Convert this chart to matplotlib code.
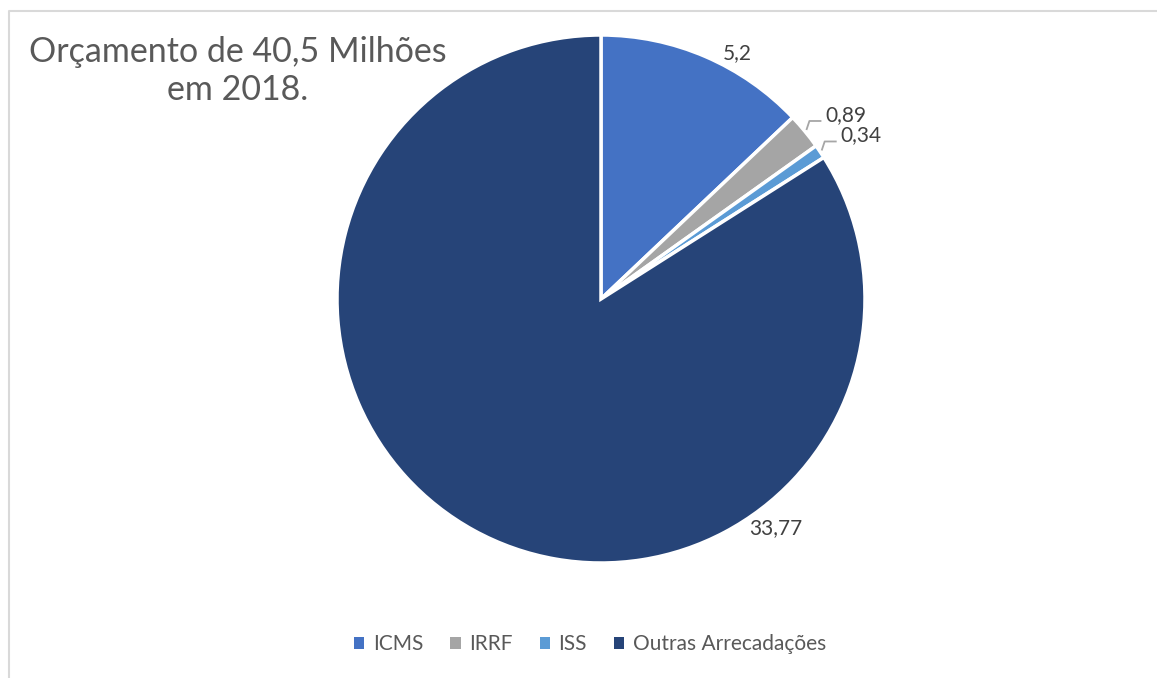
import numpy as np
import matplotlib.pyplot as plt
from matplotlib.patches import Patch

plt.rcParams['font.family'] = ['Lato', 'DejaVu Sans']

categorias = ['ICMS', 'IRRF', 'ISS', 'Outras Arrecadações']
valores = [5.2, 0.89, 0.34, 33.77]
rotulos = ['5,2', '0,89', '0,34', '33,77']
cores = ['#4472C4', '#A5A5A5', '#5B9BD5', '#264478']
titulo = 'Orçamento de 40,5 Milhões\nem 2018.'

W, H = 1157, 678
fig = plt.figure(figsize=(W / 100, H / 100), dpi=100)
ax = fig.add_axes([0, 0, 1, 1])

cx, cy, r = 601, H - 299, 264
wedges, _ = ax.pie(valores, colors=cores, startangle=90, counterclock=False,
                   center=(cx, cy), radius=r, frame=True,
                   wedgeprops=dict(edgecolor='white', linewidth=2.5))
ax.set_xlim(0, W)
ax.set_ylim(0, H)
ax.set_aspect('equal')
ax.axis('off')

# rotulos grandes: posicao polar (angulo, distancia) em torno do centro
pos_fora = {0: (60.9, 281), 3: (-52.6, 288)}
for i, (ang, d) in pos_fora.items():
    a = np.deg2rad(ang)
    ax.text(cx + d * np.cos(a), cy + d * np.sin(a), rotulos[i], fontsize=15,
            color='#404040', ha='center', va='center')

# rotulos pequenos com linha de chamada
for i in (1, 2):
    w = wedges[i]
    a = np.deg2rad((w.theta1 + w.theta2) / 2)
    x0, y0 = cx + (r + 2) * np.cos(a), cy + (r + 2) * np.sin(a)
    x1, y1 = x0 + 3, y0 + 9
    x2 = x1 + 12
    ax.plot([x0, x1, x2], [y0, y1, y1], color='#A6A6A6', lw=1.3,
            solid_capstyle='butt')
    ax.text(x2 + 4, y1 + 6, rotulos[i], fontsize=15, color='#404040',
            ha='left', va='center')

ax.text(238, H - 71, titulo, fontsize=24.5, color='#595959', ha='center',
        va='center', multialignment='center', linespacing=1.25)

# borda da area do grafico
ax.plot([9, 9, W + 5], [-5, H - 11, H - 11], color='#D9D9D9', lw=1.5,
        clip_on=False)

handles = [Patch(facecolor=c, edgecolor='none') for c in cores]
fig.legend(handles, categorias, loc='center', bbox_to_anchor=(590 / W, 1 - 644 / H),
           ncol=4, frameon=False, fontsize=15, labelcolor='#595959',
           handlelength=0.5, handleheight=0.5, handletextpad=0.4,
           columnspacing=1.3)

fig.savefig('out.png', dpi=100)
